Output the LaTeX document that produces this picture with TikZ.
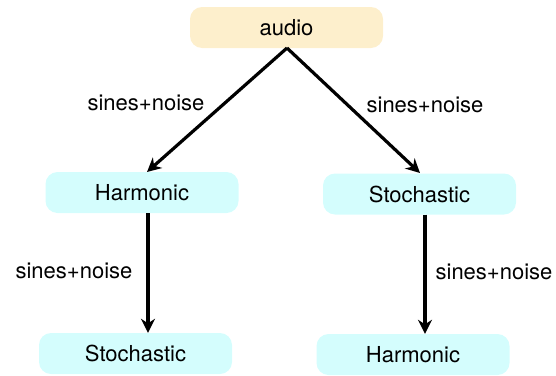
\documentclass[tikz,border=0pt]{standalone}
\usepackage{fontspec}
\setmainfont{TeX Gyre Heros}
\usetikzlibrary{arrows.meta}
\definecolor{audiofill}{HTML}{FDEFCC}
\definecolor{cyanfill}{HTML}{D4FDFD}
\begin{document}
\begin{tikzpicture}[x=1pt,y=-1pt,
  box/.style={rounded corners=12pt, minimum width=193pt, minimum height=41pt, inner sep=0pt, font=\fontsize{22}{26}\selectfont},
  topbox/.style={box, fill=audiofill},
  cbox/.style={box, fill=cyanfill},
  conn/.style={line width=3.2pt, -{Stealth[length=14pt,width=14pt]}},
  lbl/.style={font=\fontsize{22}{26}\selectfont, inner sep=0pt}]
\useasboundingbox (0,0) rectangle (556,375);
\node[topbox] (audio) at (286.5,27.5) {audio};
\node[cbox] (h1) at (142,192.5) {Harmonic};
\node[cbox] (s1) at (419.5,194) {Stochastic};
\node[cbox] (s2) at (135.5,353.5) {Stochastic};
\node[cbox] (h2) at (413,354.5) {Harmonic};
\coordinate (apex) at (287,48);
\coordinate (h1t) at (147,172);
\coordinate (s1t) at (420,173);
\draw[conn] (apex) -- (h1t);
\draw[conn] (apex) -- (s1t);
\draw[conn] (h1.south -| 148,0) -- (s2.north -| 148,0);
\draw[conn] (s1.south -| 425,0) -- (h2.north -| 425,0);
\node[lbl] (l1) at (146,103) {sines+noise};
\node[lbl] (l2) at (425,105) {sines+noise};
\node[lbl] (l3) at (74,271) {sines+noise};
\node[lbl] (l4) at (494,272) {sines+noise};
\end{tikzpicture}
\end{document}
